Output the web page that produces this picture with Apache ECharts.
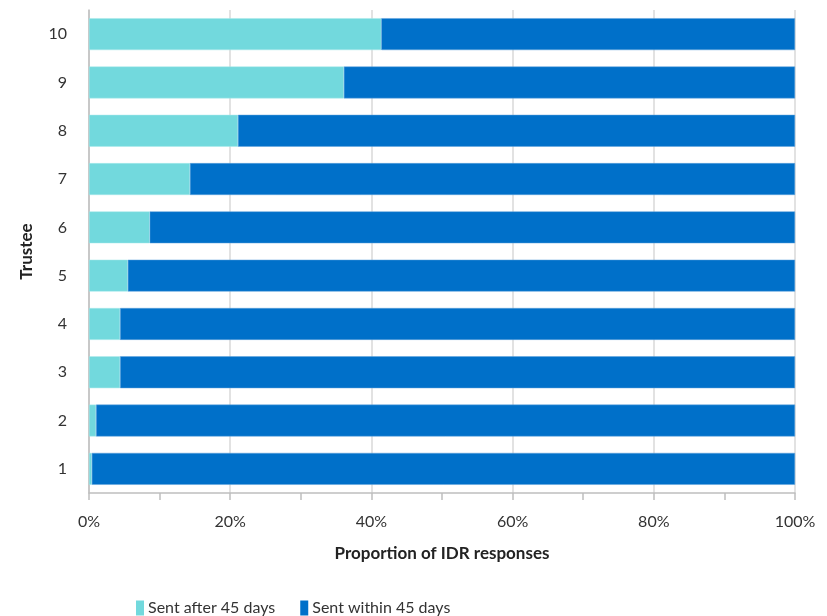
<!DOCTYPE html>
<html>
<head>
<meta charset="utf-8">
<script src="https://cdn.jsdelivr.net/npm/echarts@6/dist/echarts.min.js"></script>
<style>
html,body{margin:0;padding:0;background:#fff;}
#chart{width:827px;height:616px;}
</style>
</head>
<body>
<div id="chart"></div>
<script>
var trustees = ['1','2','3','4','5','6','7','8','9','10'];
var sentAfter = [0.4, 1.0, 4.4, 4.4, 5.5, 8.6, 14.3, 21.1, 36.1, 41.4];
var sentWithin = [99.6, 99.0, 95.6, 95.6, 94.5, 91.4, 85.7, 78.9, 63.9, 58.6];
var xTicks = [0, 20, 40, 60, 80, 100];

var font = 'Lato, "Open Sans", sans-serif';
var chart = echarts.init(document.getElementById('chart'), null, {renderer: 'canvas'});
chart.setOption({
  animation: false,
  textStyle: {fontFamily: font},
  grid: {left: 89, right: 32, top: 10, bottom: 123},
  legend: {
    left: 131, top: 595, itemWidth: 8, itemHeight: 15, itemGap: 25,
    icon: 'rect',
    itemStyle: {borderWidth: 0},
    textStyle: {fontSize: 16, color: '#333', fontFamily: font, padding: [0, 0, 0, -1]},
    data: ['Sent after 45 days', 'Sent within 45 days']
  },
  xAxis: {
    type: 'value', min: 0, max: 100, interval: 20,
    name: 'Proportion of IDR responses', nameLocation: 'middle', nameGap: 52,
    nameTextStyle: {fontSize: 17, fontWeight: 'bold', color: '#222', fontFamily: font},
    axisLine: {show: true, lineStyle: {color: '#bfbfbf', width: 1.5}},
    axisTick: {show: true, length: 7, lineStyle: {color: '#bfbfbf', width: 1.5}},
    minorTick: {show: true, splitNumber: 2, length: 7, lineStyle: {color: '#bfbfbf', width: 1.5}},
    axisLabel: {fontSize: 16, color: '#333', margin: 21, formatter: function (v) { return xTicks.indexOf(v) >= 0 ? v + '%' : ''; }},
    splitLine: {show: true, lineStyle: {color: '#d9d9d9', width: 1.5}}
  },
  yAxis: {
    type: 'category', data: trustees,
    name: 'Trustee', nameLocation: 'middle', nameGap: 54, nameRotate: 90,
    nameTextStyle: {fontSize: 17, fontWeight: 'bold', color: '#222', fontFamily: font},
    axisLine: {show: true, lineStyle: {color: '#bfbfbf', width: 1.5}},
    axisTick: {show: false},
    axisLabel: {fontSize: 16, color: '#333', margin: 22}
  },
  series: [
    {name: 'Sent after 45 days', type: 'bar', stack: 'a', data: sentAfter,
     barCategoryGap: '34%',
     itemStyle: {color: '#72D9DD', borderColor: '#a8e8ea', borderWidth: 0.5}},
    {name: 'Sent within 45 days', type: 'bar', stack: 'a', data: sentWithin,
     barCategoryGap: '34%',
     itemStyle: {color: '#0070C9', borderColor: '#5fa3dd', borderWidth: 0.5}}
  ]
});
</script>
</body>
</html>
